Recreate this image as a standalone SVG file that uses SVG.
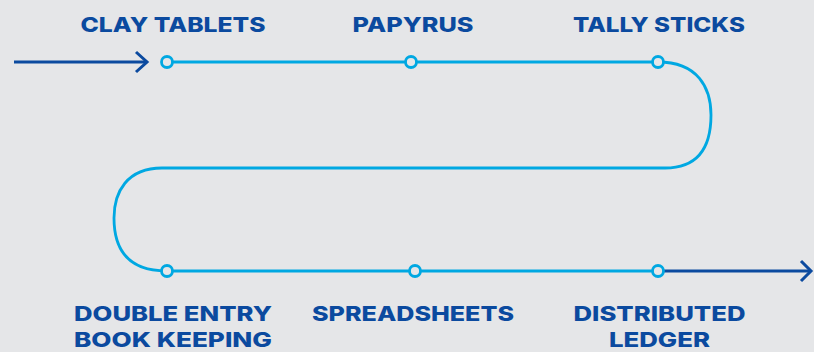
<svg xmlns="http://www.w3.org/2000/svg" width="814" height="352" viewBox="0 0 814 352">
<style>
.lbl{font-family:Inter,"Open Sans","Liberation Sans",sans-serif;font-weight:800;font-size:20.5px;fill:#0b4a9f;text-anchor:middle}
.track{fill:none;stroke:#00a8e2;stroke-width:2.8}
.dark{fill:none;stroke:#0b4a9f;stroke-width:3}
.dot{fill:#e5e6e8;stroke:#00a8e2;stroke-width:2.8}
</style>
<rect width="814" height="352" fill="#e5e6e8"/>
<g id="connectors">
<path class="dark" d="M14 62 H147"/>
<path class="dark" d="M136 52 L147 62 L136 72"/>
<path class="track" d="M167 62 H658 C698 62 711 88 711 115 C711 145 700 168 665 168 H162 C127 168 114 192 114 218 C114 248 127 271 167 271 H658"/>
<path class="dark" d="M663 271 H811"/>
<path class="dark" d="M801 261 L811 271 L801 281"/>
</g>
<g id="clay-tablets"><circle class="dot" cx="167" cy="62" r="5.5"/><text class="lbl" x="173" y="31.5" textLength="185" lengthAdjust="spacingAndGlyphs">CLAY TABLETS</text></g>
<g id="papyrus"><circle class="dot" cx="411" cy="62" r="5.5"/><text class="lbl" x="413" y="31.5" textLength="121" lengthAdjust="spacingAndGlyphs">PAPYRUS</text></g>
<g id="tally-sticks"><circle class="dot" cx="658" cy="62" r="5.5"/><text class="lbl" x="659" y="31.5" textLength="172" lengthAdjust="spacingAndGlyphs">TALLY STICKS</text></g>
<g id="double-entry"><circle class="dot" cx="167" cy="271" r="5.5"/><text class="lbl" x="173" y="320.5" textLength="198" lengthAdjust="spacingAndGlyphs">DOUBLE ENTRY</text><text class="lbl" x="173" y="346.5" textLength="198" lengthAdjust="spacingAndGlyphs">BOOK KEEPING</text></g>
<g id="spreadsheets"><circle class="dot" cx="415" cy="271" r="5.5"/><text class="lbl" x="413" y="320.5" textLength="202" lengthAdjust="spacingAndGlyphs">SPREADSHEETS</text></g>
<g id="distributed-ledger"><circle class="dot" cx="658" cy="271" r="5.5"/><text class="lbl" x="659.5" y="320.5" textLength="172" lengthAdjust="spacingAndGlyphs">DISTRIBUTED</text><text class="lbl" x="659.5" y="346.5" textLength="101" lengthAdjust="spacingAndGlyphs">LEDGER</text></g>
</svg>
